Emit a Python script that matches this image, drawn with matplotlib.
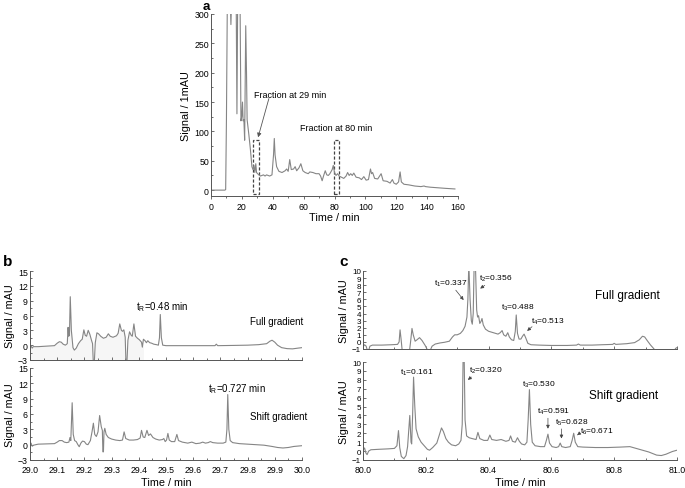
import matplotlib
matplotlib.use("Agg")
import matplotlib.pyplot as plt
from matplotlib.ticker import MultipleLocator, NullFormatter
import numpy as np

plt.rcParams['font.family'] = ['Liberation Sans', 'DejaVu Sans']
plt.rcParams['mathtext.fontset'] = 'custom'
plt.rcParams['mathtext.rm'] = 'Liberation Sans'
plt.rcParams['mathtext.it'] = 'Liberation Sans'
plt.rcParams['mathtext.default'] = 'regular'

# ---------------- Panel a: full chromatogram ----------------
a_time = [0, 9.0, 9.5, 10.0, 10.6, 12.4, 12.9, 13.4, 16.3, 16.8, 17.3, 18.8, 19.4, 19.9,
          20.4, 20.8, 21.3, 21.8, 22.5, 23.0, 23.4, 24.5, 25.5, 26.5, 27.2, 27.8, 28.4,
          29.0, 29.5, 30.2, 31, 32, 34, 35, 36, 38, 39.5, 40.5, 41.0, 41.5, 42.5, 44, 46,
          48, 49, 50, 51, 52, 53.5, 54.5, 55.5, 57, 58.2, 59.5, 61, 63, 64, 66, 68, 70,
          71, 72, 73, 74, 75, 76, 77, 78.5, 79.2, 80, 81, 82, 83, 84.5, 86, 87.5, 88.5,
          89.5, 90.5, 91.5, 92.5, 94, 96, 97.5, 99, 100.5, 102, 103.3, 104, 104.7, 106,
          108, 110.2, 111.5, 114, 116, 117.5, 118.5, 120, 121.5, 122.5, 123.3, 125, 128,
          132, 136, 138, 139, 142, 147, 152, 158]
a_signal = [0, 0, 1, 120, 330, 330, 282, 330, 330, 130, 330, 330, 118, 125,
            150, 118, 120, 85, 280, 200, 120, 95, 70, 40, 35, 42, 30,
            45, 30, 28, 26, 24, 26, 24, 26, 24, 26, 60, 88, 60, 40, 32, 30,
            33, 36, 32, 52, 35, 36, 40, 33, 38, 45, 33, 30, 28, 31, 30, 28, 28,
            24, 16, 25, 33, 26, 25, 28, 35, 42, 30, 25, 28, 24, 22, 20, 24, 30,
            25, 28, 25, 29, 22, 21, 18, 23, 17, 18, 36, 28, 30, 20,
            19, 28, 16, 15, 12, 18, 12, 10, 14, 31, 14, 10, 9,
            7, 6, 7, 6, 5, 4, 3, 2]
a_fractions = [(27.2, 31.1), (79.5, 82.6)]   # dashed fraction boxes (min)
a_labels = ["Fraction at 29 min", "Fraction at 80 min"]

# ---------------- Panel b: fraction at 29 min ----------------
b_time_full = [29.000, 29.004, 29.008, 29.012, 29.03, 29.06, 29.09, 29.100, 29.108, 29.115,
               29.122, 29.130, 29.137, 29.140, 29.142, 29.145, 29.148, 29.152, 29.158, 29.163,
               29.170, 29.178, 29.186, 29.192, 29.198, 29.203, 29.208, 29.214, 29.220, 29.226,
               29.230, 29.233, 29.236, 29.240, 29.246, 29.252, 29.260, 29.270, 29.280, 29.288,
               29.295, 29.305, 29.318, 29.324, 29.330, 29.336, 29.340, 29.345, 29.350, 29.353,
               29.356, 29.360, 29.366, 29.372, 29.376, 29.382, 29.388, 29.395, 29.402, 29.410,
               29.413, 29.417, 29.423, 29.428, 29.433, 29.440, 29.447, 29.455, 29.465, 29.472,
               29.476, 29.479, 29.483, 29.488, 29.500, 29.550, 29.600, 29.650, 29.680, 29.685,
               29.690, 29.750, 29.800, 29.840, 29.870, 29.882, 29.890, 29.900, 29.910, 29.925,
               29.945, 29.965, 29.985, 30.000]
b_full = [-0.3, -0.2, -0.6, -0.3, -0.3, -0.2, -0.1, 0.4, 0.7, 0.6,
          0.2, 0.0, 0.3, 3.6, 1.8, 2.0, 9.8, 3.0, -0.5, -1.0,
          -0.6, 0.3, 0.9, 1.2, 3.1, 2.0, 1.8, 3.0, 2.2, 1.0,
          0.3, -4.0, -4.0, 0.5, 2.5, 2.3, 1.8, 1.4, 1.6, 2.3,
          1.8, 1.6, 1.9, 2.4, 4.3, 3.0, 2.8, 3.1, 1.6, -4.0,
          -4.0, 1.0, 2.7, 2.0, 1.8, 4.3, 1.8, 1.4, 1.1, 0.6,
          -0.4, 1.2, 0.9, 0.5, 0.9, 0.5, 0.4, 0.2, 0.1, 0.0,
          1.5, 6.2, 1.5, 0.0, -0.1, -0.1, -0.1, -0.1, -0.1, 0.2,
          -0.1, -0.05, 0.0, 0.1, 0.3, 0.8, 1.0, 0.6, 0.0, -0.5,
          -0.7, -0.75, -0.6, -0.5]

b_time_shift = [29.000, 29.004, 29.008, 29.013, 29.03, 29.06, 29.09, 29.100, 29.108, 29.118,
                29.126, 29.135, 29.143, 29.147, 29.150, 29.155, 29.159, 29.164, 29.170, 29.176,
                29.181, 29.187, 29.193, 29.200, 29.207, 29.213, 29.222, 29.228, 29.233, 29.238,
                29.244, 29.250, 29.256, 29.262, 29.266, 29.268, 29.270, 29.272, 29.275, 29.280,
                29.288, 29.300, 29.315, 29.330, 29.340, 29.346, 29.352, 29.365, 29.380, 29.395,
                29.405, 29.410, 29.416, 29.422, 29.430, 29.436, 29.443, 29.452, 29.462, 29.475,
                29.487, 29.492, 29.497, 29.502, 29.507, 29.512, 29.520, 29.532, 29.540, 29.546,
                29.560, 29.580, 29.595, 29.610, 29.625, 29.635, 29.645, 29.655, 29.663, 29.672,
                29.690, 29.710, 29.720, 29.724, 29.727, 29.731, 29.736, 29.745, 29.770, 29.800,
                29.830, 29.860, 29.890, 29.910, 29.930, 29.950, 29.970, 29.990, 30.000]
b_shift = [0.0, 0.3, -0.3, -0.1, 0.1, 0.15, 0.2, 0.5, 0.8, 0.8,
           0.5, 0.4, 0.5, 1.4, 0.8, 8.2, 2.0, 0.8, 0.6, 0.0,
           -0.4, 0.3, 0.7, 0.6, 0.1, 0.0, 0.8, 2.5, 4.2, 2.0,
           1.6, 2.5, 5.7, 3.5, 2.8, -1.4, -1.4, 2.5, 3.2, 2.0,
           1.4, 1.1, 0.9, 0.8, 0.9, 2.5, 1.2, 0.9, 0.9, 1.0,
           1.3, 2.8, 1.5, 1.4, 2.8, 1.8, 2.1, 1.4, 1.1, 0.9,
           1.0, 1.2, 0.6, 0.9, 2.2, 0.9, 0.6, 0.6, 2.0, 0.8,
           0.5, 0.3, 0.5, 0.2, 0.3, 0.5, 0.3, 0.4, 0.6, 0.4,
           0.3, 0.3, 0.5, 3.0, 9.8, 3.0, 0.8, 0.4, 0.2, 0.1,
           0.0, -0.1, -0.35, -0.55, -0.65, -0.55, -0.35, -0.25, -0.2]

# ---------------- Panel c: fraction at 80 min ----------------
c_time_full = [80.000, 80.005, 80.010, 80.014, 80.018, 80.022, 80.030, 80.060, 80.090, 80.110,
               80.115, 80.118, 80.121, 80.125, 80.148, 80.152, 80.156, 80.160, 80.166, 80.172,
               80.180, 80.188, 80.198, 80.206, 80.214, 80.220, 80.230, 80.245, 80.260, 80.275,
               80.285, 80.292, 80.300, 80.310, 80.318, 80.325, 80.331, 80.334, 80.337, 80.341,
               80.345, 80.348, 80.351, 80.354, 80.358, 80.362, 80.365, 80.368, 80.372, 80.376,
               80.379, 80.383, 80.390, 80.400, 80.415, 80.430, 80.437, 80.443, 80.448, 80.455,
               80.461, 80.466, 80.473, 80.480, 80.485, 80.488, 80.492, 80.497, 80.503, 80.508,
               80.513, 80.518, 80.525, 80.535, 80.560, 80.600, 80.650, 80.680, 80.686, 80.692,
               80.730, 80.760, 80.795, 80.800, 80.805, 80.840, 80.865, 80.880, 80.890, 80.897,
               80.905, 80.915, 80.925, 80.932, 80.990, 80.996, 81.000]
c_full = [-0.7, -0.4, -0.6, -1.2, -1.2, -0.6, -0.45, -0.45, -0.4, -0.35,
          0.0, 1.7, 0.5, -1.3, -1.3, 0.2, 1.9, 1.0, 0.1, 0.3,
          0.6, 0.2, -0.5, -1.2, -1.2, -0.6, -0.3, -0.15, -0.05, 0.1,
          0.7, 1.0, 1.0, 1.2, 1.6, 2.2, 3.5, 6.0, 11.0, 6.0,
          3.0, 2.5, 4.0, 11.0, 11.0, 4.5, 3.5, 3.7, 2.6, 2.9,
          3.3, 2.4, 1.8, 1.5, 1.3, 1.1, 1.3, 1.6, 1.0, 0.8,
          1.3, 0.7, 0.3, 0.2, 1.5, 3.8, 1.2, 0.4, 0.4, 0.8,
          1.1, 0.6, -0.2, -0.4, -0.45, -0.5, -0.5, -0.45, -0.3, -0.45,
          -0.45, -0.4, -0.35, -0.2, -0.35, -0.25, -0.1, 0.3, 0.8, 0.7,
          0.2, -0.4, -0.9, -1.3, -1.3, -0.9, -0.8]

c_time_shift = [80.000, 80.005, 80.009, 80.013, 80.018, 80.025, 80.050, 80.080, 80.100, 80.108,
                80.113, 80.117, 80.122, 80.130, 80.137, 80.142, 80.146, 80.149, 80.153, 80.155,
                80.158, 80.161, 80.165, 80.169, 80.176, 80.185, 80.195, 80.205, 80.212, 80.222,
                80.235, 80.243, 80.250, 80.256, 80.264, 80.272, 80.282, 80.295, 80.305, 80.312,
                80.316, 80.319, 80.322, 80.325, 80.330, 80.338, 80.348, 80.360, 80.366, 80.372,
                80.385, 80.397, 80.404, 80.410, 80.425, 80.440, 80.455, 80.465, 80.470, 80.476,
                80.485, 80.492, 80.498, 80.505, 80.515, 80.522, 80.526, 80.530, 80.534, 80.539,
                80.548, 80.565, 80.578, 80.584, 80.589, 80.594, 80.602, 80.615, 80.623, 80.628,
                80.633, 80.645, 80.660, 80.666, 80.671, 80.676, 80.684, 80.700, 80.740, 80.780,
                80.820, 80.850, 80.880, 80.910, 80.935, 80.950, 80.965, 80.985, 81.000]
c_shift = [0.1, 0.35, -0.2, -0.4, 0.0, 0.15, 0.2, 0.25, 0.3, 0.6,
           2.3, 0.4, -0.6, -0.85, -0.5, 0.5, 2.5, 4.0, 1.0, 0.8,
           4.0, 8.3, 5.0, 2.5, 1.6, 1.0, 0.6, 0.2, 0.1, 0.4,
           0.9, 1.8, 2.6, 2.2, 1.4, 1.0, 0.7, 0.6, 0.8, 1.2,
           3.0, 11.0, 11.0, 3.5, 1.7, 1.5, 1.4, 1.3, 2.1, 1.4,
           1.2, 1.2, 1.8, 1.3, 1.2, 1.3, 1.1, 1.2, 1.7, 1.1,
           1.0, 1.5, 1.1, 0.8, 0.7, 1.0, 3.5, 6.9, 3.0, 1.0,
           0.6, 0.5, 0.5, 1.2, 1.9, 0.9, 0.5, 0.4, 0.5, 0.9,
           0.5, 0.4, 0.5, 1.2, 2.0, 1.0, 0.5, 0.45, 0.4, 0.4,
           0.45, 0.5, 0.2, -0.1, -0.45, -0.5, -0.35, -0.05, 0.1]

LINE = '#858585'
SPINE = '#555555'
TICK_FS = 6.3
LAB_FS = 7.8

fig = plt.figure(figsize=(6.85, 4.89), dpi=100)
W, H = 685.0, 489.0

def add_ax(x0, y0, x1, y1):
    return fig.add_axes([x0 / W, 1 - y1 / H, (x1 - x0) / W, (y1 - y0) / H])

def style(ax, xin=True):
    for s in ['top', 'right']:
        ax.spines[s].set_visible(False)
    for s in ['left', 'bottom']:
        ax.spines[s].set_color(SPINE)
        ax.spines[s].set_linewidth(0.7)
    ax.tick_params(axis='both', which='both', labelsize=TICK_FS, colors=SPINE,
                   labelcolor='black', width=0.6)
    ax.tick_params(axis='y', which='both', direction='in', pad=1.5)
    ax.tick_params(axis='x', which='both', direction='in' if xin else 'out', pad=3.8)
    ax.tick_params(which='major', length=2.5)
    ax.tick_params(which='minor', length=1.5)

# ---- a ----
axa = add_ax(211, 15, 458, 197)
axa.plot(a_time, a_signal, color=LINE, lw=0.8)
axa.set_xlim(0, 160)
axa.set_ylim(-10, 300)
axa.xaxis.set_major_locator(MultipleLocator(20))
axa.xaxis.set_minor_locator(MultipleLocator(10))
axa.set_yticks([0, 50, 100, 150, 200, 250, 300])
axa.yaxis.set_minor_locator(MultipleLocator(25))
style(axa, xin=False)
axa.tick_params(axis='x', pad=1.5)
axa.set_xlabel('Time / min', fontsize=LAB_FS, labelpad=1)
axa.set_ylabel('Signal / 1mAU', fontsize=LAB_FS, labelpad=2)
for (x0, x1) in a_fractions:
    axa.add_patch(plt.Rectangle((x0, -7), x1 - x0, 92, fill=False, ls=(0, (2.5, 1.5)),
                                lw=0.9, ec='#444444'))
axa.annotate('', xy=(30.5, 90), xytext=(37.5, 156),
             arrowprops=dict(arrowstyle='-|>', color='#555555', lw=0.6,
                             mutation_scale=6, shrinkA=0, shrinkB=0))
axa.text(51, 163, a_labels[0], fontsize=6.5, ha='center', va='center')
axa.text(81, 107, a_labels[1], fontsize=6.5, ha='center', va='center')
fig.text(206 / W, 1 - 0.5 / H, 'a', fontsize=9.5, fontweight='bold', ha='center', va='top')

# ---- b ----
axb1 = add_ax(30, 272, 302, 361)
axb2 = add_ax(30, 369, 302, 461)
bt = np.array(b_time_full)
bf = np.array(b_full)
mask = bt <= 29.42
axb1.fill_between(bt[mask], bf[mask], -3, color='#f6f6f6', lw=0)
axb1.plot(b_time_full, b_full, color=LINE, lw=0.8)
axb2.plot(b_time_shift, b_shift, color=LINE, lw=0.8)
for ax in (axb1, axb2):
    ax.set_xlim(29.0, 30.0)
    ax.set_ylim(-3, 15)
    ax.xaxis.set_major_locator(MultipleLocator(0.1))
    ax.xaxis.set_minor_locator(MultipleLocator(0.05))
    ax.yaxis.set_major_locator(MultipleLocator(3))
    ax.yaxis.set_minor_locator(MultipleLocator(1.5))
    style(ax)
    ax.set_ylabel('Signal / mAU', fontsize=LAB_FS, labelpad=2)
axb1.xaxis.set_major_formatter(NullFormatter())
axb2.set_xticks(np.round(np.arange(29.0, 30.01, 0.1), 1))
axb2.set_xticklabels(['%.1f' % v for v in np.arange(29.0, 30.01, 0.1)])
axb2.set_xlabel('Time / min', fontsize=LAB_FS, labelpad=2)
axb1.text(29.39, 8.0, r'$t_R$=0.48 min', fontsize=7, ha='left', va='center')
axb1.text(29.81, 4.8, 'Full gradient', fontsize=7, ha='left', va='center')
axb2.text(29.655, 11.0, r'$t_R$=0.727 min', fontsize=7, ha='left', va='center')
axb2.text(29.81, 5.6, 'Shift gradient', fontsize=7, ha='left', va='center')
fig.text(8 / W, 1 - 262 / H, 'b', fontsize=11, fontweight='bold', ha='center', va='center')

# ---- c ----
axc1 = add_ax(363, 272, 677, 350)
axc2 = add_ax(363, 363, 677, 461)
axc1.plot(c_time_full, c_full, color=LINE, lw=0.8)
axc2.plot(c_time_shift, c_shift, color=LINE, lw=0.8)
for ax in (axc1, axc2):
    ax.set_xlim(80.0, 81.0)
    ax.set_ylim(-1, 10)
    ax.xaxis.set_major_locator(MultipleLocator(0.2))
    ax.xaxis.set_minor_locator(MultipleLocator(0.1))
    ax.yaxis.set_major_locator(MultipleLocator(1))
    style(ax)
    ax.tick_params(axis='y', labelsize=5.8)
    ax.set_ylabel('Signal / mAU', fontsize=LAB_FS, labelpad=2)
axc1.xaxis.set_major_formatter(NullFormatter())
axc2.set_xticks(np.round(np.arange(80.0, 81.01, 0.2), 1))
axc2.set_xticklabels(['%.1f' % v for v in np.arange(80.0, 81.01, 0.2)])
axc2.set_xlabel('Time / min', fontsize=LAB_FS, labelpad=2)

ann = dict(fontsize=6, ha='left', va='center')
arr = dict(arrowstyle='-|>', color='#444444', lw=0.5, mutation_scale=5)
axc1.text(80.225, 8.3, r'$t_1$=0.337', **ann)
axc1.annotate('', xy=(80.326, 5.6), xytext=(80.29, 7.6), arrowprops=arr)
axc1.text(80.368, 9.0, r'$t_2$=0.356', **ann)
axc1.annotate('', xy=(80.366, 7.3), xytext=(80.395, 8.2), arrowprops=arr)
axc1.text(80.44, 4.9, r'$t_3$=0.488', **ann)
axc1.text(80.535, 3.0, r'$t_4$=0.513', **ann)
axc1.annotate('', xy=(80.516, 1.3), xytext=(80.545, 2.4), arrowprops=arr)
axc1.text(80.74, 6.6, 'Full gradient', fontsize=8.5, ha='left', va='center')

axc2.text(80.118, 8.9, r'$t_1$=0.161', **ann)
axc2.text(80.336, 9.1, r'$t_2$=0.320', **ann)
axc2.annotate('', xy=(80.327, 7.8), xytext=(80.352, 8.5), arrowprops=arr)
axc2.text(80.505, 7.5, r'$t_3$=0.530', **ann)
axc2.text(80.555, 4.5, r'$t_4$=0.591', **ann)
axc2.annotate('', xy=(80.589, 2.2), xytext=(80.589, 4.0), arrowprops=arr)
axc2.text(80.612, 3.3, r'$t_5$=0.628', **ann)
axc2.annotate('', xy=(80.632, 1.1), xytext=(80.632, 2.8), arrowprops=arr)
axc2.text(80.69, 2.3, r'$t_6$=0.671', **ann)
axc2.annotate('', xy=(80.675, 1.6), xytext=(80.69, 2.0), arrowprops=arr)
axc2.text(80.72, 6.3, 'Shift gradient', fontsize=8.5, ha='left', va='center')
fig.text(344 / W, 1 - 262 / H, 'c', fontsize=11, fontweight='bold', ha='center', va='center')

fig.savefig('out.png', dpi=100)
